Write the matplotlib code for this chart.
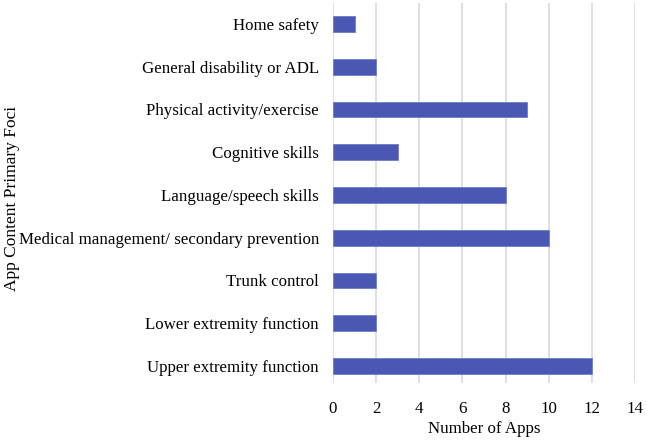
import matplotlib.pyplot as plt

plt.rcParams['font.family'] = ['Liberation Serif', 'DejaVu Serif']

categories = ['Upper extremity function', 'Lower extremity function', 'Trunk control',
              'Medical management/ secondary prevention', 'Language/speech skills',
              'Cognitive skills', 'Physical activity/exercise',
              'General disability or ADL', 'Home safety']
num_apps = [12, 2, 2, 10, 8, 3, 9, 2, 1]
xticks = [0, 2, 4, 6, 8, 10, 12, 14]

fig = plt.figure(figsize=(6.47, 4.41), dpi=100)
ax = fig.add_axes([0.5147, 0.1315, 0.4668, 0.8617])

ax.barh(range(len(categories)), num_apps, height=0.37, color='#4a58b4',
        edgecolor='#6f7cc8', linewidth=0.6, zorder=3)

ax.set_xlim(0, 14)
ax.set_ylim(-0.4, len(categories) - 0.51)
ax.set_xticks(xticks)
ax.set_yticks(range(len(categories)))
ax.set_yticklabels(categories)

ax.grid(axis='x', color='#d9d9d9', linewidth=1.2, zorder=0)
ax.grid(axis='y', visible=False)
for s in ax.spines.values():
    s.set_visible(False)
ax.tick_params(axis='both', length=0, labelsize=12.2)
ax.tick_params(axis='y', pad=10)
ax.tick_params(axis='x', pad=13)

ax.set_xlabel('Number of Apps', fontsize=12.2, labelpad=3)
fig.text(0.018, 0.55, 'App Content Primary Foci', rotation=90, fontsize=12.5,
         ha='center', va='center')

fig.savefig('out.png', dpi=100)
